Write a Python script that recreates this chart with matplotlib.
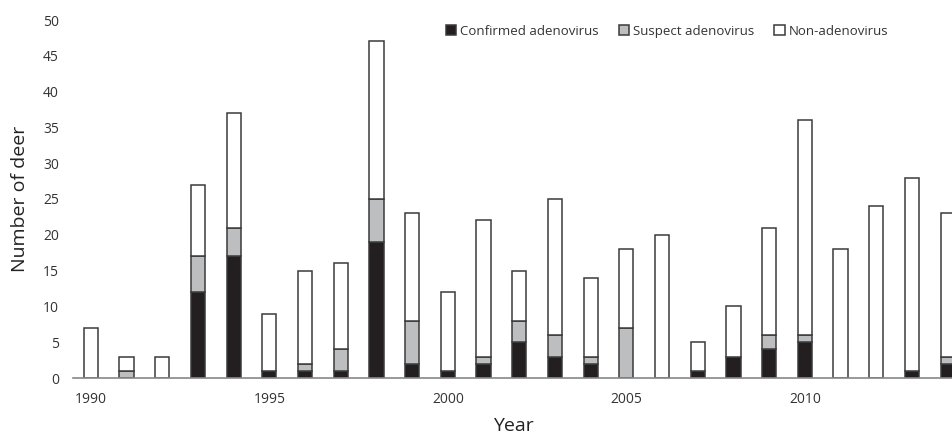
import matplotlib
matplotlib.use("Agg")
import matplotlib.pyplot as plt
import numpy as np

years = list(range(1990, 2015))
confirmed = [0, 0, 0, 12, 17, 1, 1, 1, 19, 2, 1, 2, 5, 3, 2, 0, 0, 1, 3, 4, 5, 0, 0, 1, 2]
suspect   = [0, 1, 0, 5, 4, 0, 1, 3, 6, 6, 0, 1, 3, 3, 1, 7, 0, 0, 0, 2, 1, 0, 0, 0, 1]
non_adeno = [7, 2, 3, 10, 16, 8, 13, 12, 22, 15, 11, 19, 7, 19, 11, 11, 20, 4, 7, 15, 30, 18, 24, 27, 20]
series_names = ["Confirmed adenovirus", "Suspect adenovirus", "Non-adenovirus"]
xtick_years = [1990, 1995, 2000, 2005, 2010]

plt.rcParams['font.family'] = ['Open Sans', 'DejaVu Sans']

fig = plt.figure(figsize=(9.53, 4.38), dpi=100)
ax = fig.add_axes([73/953, 1-378/438, 1-73/953, (378-20)/438])

x = np.array(years)
c = np.array(confirmed); s = np.array(suspect); n = np.array(non_adeno)
w = 0.4
edge = '#3a3a3a'
lw = 1.1
ax.bar(x, c, w, color='#231f20', edgecolor=edge, linewidth=lw, label=series_names[0])
ax.bar(x, s, w, bottom=c, color='#bcbec0', edgecolor=edge, linewidth=lw, label=series_names[1])
ax.bar(x, n, w, bottom=c+s, color='white', edgecolor=edge, linewidth=lw, label=series_names[2])

ax.set_xlim(1989.5, 2014.15)
ax.set_ylim(0, 50)
ax.set_yticks(range(0, 51, 5))
ax.set_xticks(xtick_years)
for sp in ['top', 'right', 'left']:
    ax.spines[sp].set_visible(False)
ax.spines['bottom'].set_color('#888888')
ax.spines['bottom'].set_linewidth(1.2)
ax.tick_params(axis='both', length=0, labelsize=10, colors='#333333')
ax.tick_params(axis='x', pad=10)
ax.tick_params(axis='y', pad=10)
ax.set_xlabel("Year", fontsize=14, color='#222222', labelpad=7)
ax.set_ylabel("Number of deer", fontsize=14, color='#222222', labelpad=10)

ax.legend(loc='upper right', bbox_to_anchor=(0.94, 1.02), ncol=3, frameon=False,
          fontsize=9.5, handlelength=0.8, handleheight=0.8, handletextpad=0.3,
          columnspacing=1.5, labelcolor='#333333')

fig.savefig("out.png", dpi=100)
